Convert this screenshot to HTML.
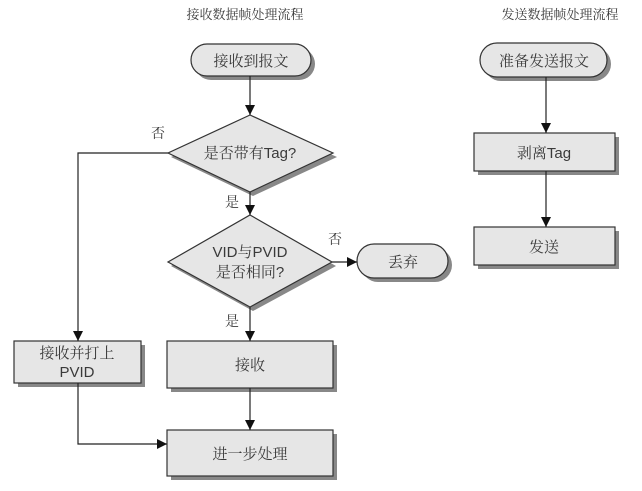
<!DOCTYPE html>
<html><head><meta charset="utf-8"><style>
html,body{margin:0;padding:0;background:#fff}
svg text{font-family:"Liberation Sans","Noto Serif CJK SC",serif;fill:#3a3a3a}
</style></head><body>
<svg width="642" height="486" viewBox="0 0 642 486" xmlns="http://www.w3.org/2000/svg">
<defs>
<marker id="a" markerWidth="10" markerHeight="10" refX="10" refY="5" orient="auto" markerUnits="userSpaceOnUse">
<path d="M0,0 L10,5 L0,10 z" fill="#111"/></marker>
</defs>
<g font-size="13" text-anchor="middle">
<text x="245" y="19" fill="#222">接收数据帧处理流程</text>
<text x="560" y="19" fill="#222">发送数据帧处理流程</text>
</g>
<g fill="#888">
<rect x="195" y="48" width="120" height="32" rx="16"/>
<polygon points="253,119 337,157 253,196 171,157"/>
<polygon points="253,219 336,266 253,311 171,266"/>
<rect x="361" y="248" width="91" height="34" rx="17"/>
<rect x="18" y="345" width="127" height="42"/>
<rect x="171" y="345" width="166" height="47"/>
<rect x="171" y="434" width="166" height="46"/>
<rect x="484" y="47" width="127" height="34" rx="17"/>
<rect x="478" y="137" width="141" height="38"/>
<rect x="478" y="231" width="141" height="38"/>
</g>
<g fill="#e6e6e6" stroke="#333" stroke-width="1.2">
<rect x="191" y="44" width="120" height="32" rx="16"/>
<polygon points="250,115 333,153 250,192 168,153"/>
<polygon points="250,215 332,262 250,307 168,262"/>
<rect x="357" y="244" width="91" height="34" rx="17"/>
<rect x="14" y="341" width="127" height="42"/>
<rect x="167" y="341" width="166" height="47"/>
<rect x="167" y="430" width="166" height="46"/>
<rect x="480" y="43" width="127" height="34" rx="17"/>
<rect x="474" y="133" width="141" height="38"/>
<rect x="474" y="227" width="141" height="38"/>
</g>
<g stroke="#222" stroke-width="1.2" fill="none" marker-end="url(#a)">
<line x1="250" y1="76" x2="250" y2="115"/>
<line x1="250" y1="192" x2="250" y2="215"/>
<line x1="332" y1="262" x2="357" y2="262"/>
<line x1="250" y1="307" x2="250" y2="341"/>
<line x1="250" y1="388" x2="250" y2="430"/>
<polyline points="168,153 78,153 78,341"/>
<polyline points="78,383 78,444 167,444"/>
<line x1="546" y1="77" x2="546" y2="133"/>
<line x1="546" y1="171" x2="546" y2="227"/>
</g>
<g font-size="15" text-anchor="middle">
<text x="251" y="66">接收到报文</text>
<text x="250" y="158">是否带有Tag?</text>
<text x="250" y="257">VID与PVID</text>
<text x="250" y="277">是否相同?</text>
<text x="403" y="267">丢弃</text>
<text x="77" y="358">接收并打上</text>
<text x="77" y="377">PVID</text>
<text x="250" y="370">接收</text>
<text x="250" y="459">进一步处理</text>
<text x="544" y="66">准备发送报文</text>
<text x="544" y="158">剥离Tag</text>
<text x="544" y="252">发送</text>
</g>
<g font-size="14" text-anchor="middle">
<text x="158" y="138">否</text>
<text x="232" y="207">是</text>
<text x="335" y="244">否</text>
<text x="232" y="326">是</text>
</g>
</svg>
</body></html>
